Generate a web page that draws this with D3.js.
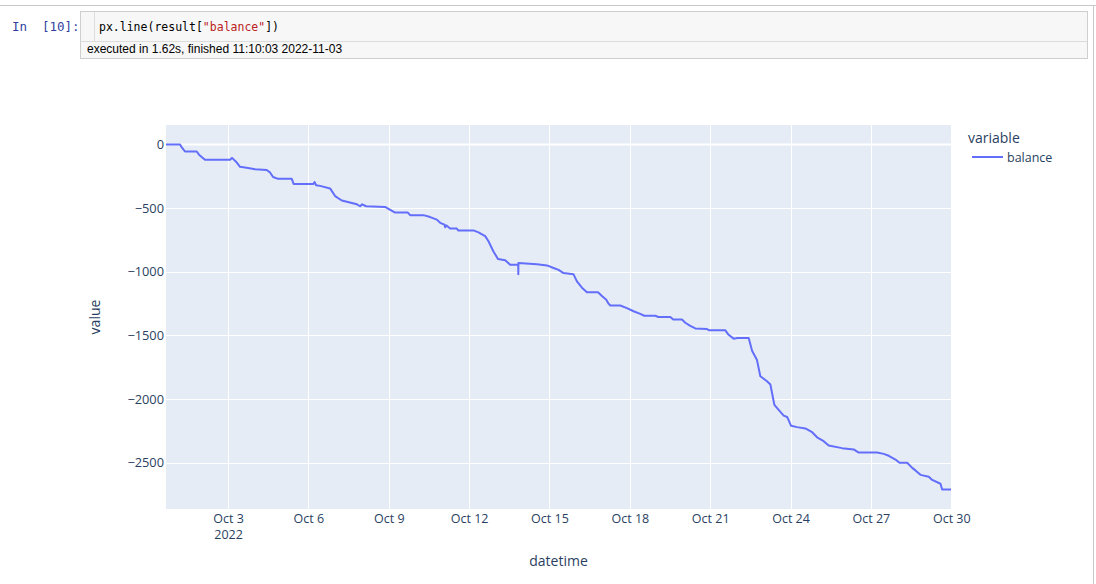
<!DOCTYPE html>
<html>
<head>
<meta charset="utf-8">
<script src="https://cdn.jsdelivr.net/npm/d3@7"></script>
<style>
  html, body { margin: 0; padding: 0; background: #fff; }
  svg { display: block; }
</style>
</head>
<body>
<svg id="chart" width="1096" height="584"></svg>
<script>
// ---- data ----
const times = [
"2022-09-30 16:25","2022-10-01 05:00","2022-10-01 06:45","2022-10-01 09:25","2022-10-01 19:55","2022-10-01 22:00",
"2022-10-02 03:20","2022-10-03 01:50","2022-10-03 03:35","2022-10-03 07:10","2022-10-03 10:45","2022-10-03 17:55",
"2022-10-04 00:15","2022-10-04 10:40","2022-10-04 13:40","2022-10-04 16:20","2022-10-04 20:50","2022-10-05 09:05",
"2022-10-05 10:45","2022-10-06 04:30","2022-10-06 05:30","2022-10-06 06:55","2022-10-06 10:30","2022-10-06 19:25",
"2022-10-06 23:55","2022-10-07 05:55","2022-10-07 14:55","2022-10-07 19:25","2022-10-07 22:20","2022-10-08 00:10",
"2022-10-08 03:45","2022-10-08 20:45","2022-10-08 23:45","2022-10-09 05:45","2022-10-09 17:05","2022-10-09 19:10",
"2022-10-10 07:05","2022-10-10 13:05","2022-10-10 19:05","2022-10-10 22:05","2022-10-11 01:55","2022-10-11 02:35",
"2022-10-11 03:25","2022-10-11 07:00","2022-10-11 13:00","2022-10-11 14:10","2022-10-12 03:55","2022-10-12 08:25",
"2022-10-12 14:25","2022-10-12 17:20","2022-10-12 21:50","2022-10-13 01:50","2022-10-13 08:20","2022-10-13 12:50",
"2022-10-13 20:00","2022-10-13 20:05","2022-10-13 20:10","2022-10-14 12:45","2022-10-14 21:45","2022-10-15 03:40",
"2022-10-15 08:10","2022-10-15 12:35","2022-10-15 21:35","2022-10-16 00:35","2022-10-16 05:05","2022-10-16 09:35",
"2022-10-16 19:30","2022-10-16 23:00","2022-10-17 02:55","2022-10-17 04:55","2022-10-17 06:30","2022-10-17 15:25",
"2022-10-17 21:25","2022-10-18 03:20","2022-10-18 09:20","2022-10-18 12:55","2022-10-18 22:50","2022-10-19 01:30",
"2022-10-19 12:15","2022-10-19 14:55","2022-10-19 22:45","2022-10-20 01:40","2022-10-20 06:10","2022-10-20 10:40",
"2022-10-20 21:10","2022-10-20 23:15","2022-10-21 13:35","2022-10-21 16:30","2022-10-21 21:00","2022-10-22 00:20",
"2022-10-22 10:30","2022-10-22 13:30","2022-10-22 17:50","2022-10-22 20:55","2022-10-23 02:55","2022-10-23 05:55",
"2022-10-23 09:30","2022-10-23 13:20","2022-10-23 17:50","2022-10-23 20:55","2022-10-24 00:30","2022-10-24 05:50",
"2022-10-24 13:15","2022-10-24 19:20","2022-10-24 23:45","2022-10-25 05:40","2022-10-25 10:10","2022-10-25 22:10",
"2022-10-26 08:35","2022-10-26 13:05","2022-10-27 05:35","2022-10-27 11:30","2022-10-27 16:00","2022-10-27 22:00",
"2022-10-28 01:35","2022-10-28 08:30","2022-10-28 13:00","2022-10-28 15:55","2022-10-28 20:25","2022-10-29 03:50",
"2022-10-29 06:55","2022-10-29 14:20","2022-10-29 15:50","2022-10-29 23:45"
];
const balance = [
0,0,-25,-55,-55,-80,
-120,-120,-105,-135,-175,-185,
-195,-200,-220,-255,-270,-270,
-310,-310,-295,-320,-325,-345,
-405,-440,-460,-470,-485,-470,
-485,-490,-505,-535,-535,-555,
-555,-570,-590,-615,-630,-650,
-635,-660,-660,-675,-675,-690,
-720,-760,-840,-900,-910,-945,
-945,-1020,-930,-940,-950,-970,
-985,-1010,-1020,-1075,-1125,-1160,
-1160,-1190,-1220,-1250,-1265,-1265,
-1285,-1310,-1330,-1345,-1345,-1355,
-1355,-1375,-1375,-1400,-1425,-1445,
-1450,-1460,-1460,-1495,-1525,-1520,
-1520,-1620,-1690,-1820,-1860,-1885,
-2045,-2085,-2130,-2140,-2210,-2220,
-2230,-2260,-2300,-2330,-2365,-2385,
-2395,-2420,-2420,-2430,-2445,-2475,
-2500,-2500,-2540,-2560,-2595,-2610,
-2635,-2665,-2710,-2710
];
const xTickDates = ["2022-10-03","2022-10-06","2022-10-09","2022-10-12","2022-10-15","2022-10-18","2022-10-21","2022-10-24","2022-10-27","2022-10-30"];
const xTickLabels = ["Oct 3","Oct 6","Oct 9","Oct 12","Oct 15","Oct 18","Oct 21","Oct 24","Oct 27","Oct 30"];
const yTicks = [0,-500,-1000,-1500,-2000,-2500];
const seriesName = "balance";

// ---- layout ----
const svg = d3.select("#chart");
const W = 1096, H = 584;
const plot = {left: 166, right: 951, top: 125, bottom: 509};
const font = "'Open Sans', verdana, arial, sans-serif";
const txt = "#2a3f5f";
const lineColor = "#636efa";

// notebook chrome
svg.append("line").attr("x1",0).attr("x2",W).attr("y1",5.5).attr("y2",5.5).attr("stroke","#c8c8c8");
svg.append("line").attr("x1",1093.5).attr("x2",1093.5).attr("y1",5).attr("y2",H).attr("stroke","#c8c8c8");
svg.append("rect").attr("x",80.5).attr("y",11.5).attr("width",1007).attr("height",47)
   .attr("fill","#f7f7f7").attr("stroke","#cfcfcf");
svg.append("line").attr("x1",80.5).attr("x2",1087.5).attr("y1",41.5).attr("y2",41.5).attr("stroke","#dcdcdc");
svg.append("line").attr("x1",94.5).attr("x2",94.5).attr("y1",12).attr("y2",41).attr("stroke","#dddddd");
const mono = "'DejaVu Sans Mono', 'Liberation Mono', monospace";
svg.append("text").attr("x",12).attr("y",30.5).attr("font-family",mono).attr("font-size",12.5)
   .attr("fill","#303F9F").text("In");
svg.append("text").attr("x",42).attr("y",30.5).attr("font-family",mono).attr("font-size",12.5)
   .attr("fill","#303F9F").text("[10]:");
const code = svg.append("text").attr("x",99).attr("y",30.5).attr("font-family",mono).attr("font-size",11.5).attr("fill","#000");
code.append("tspan").text("px.line(result[");
code.append("tspan").attr("fill","#BA2121").text('"balance"');
code.append("tspan").text("])");
svg.append("text").attr("x",87).attr("y",52.5).attr("font-family","'Liberation Sans', Arial, sans-serif")
   .attr("font-size",12).attr("fill","#000").text("executed in 1.62s, finished 11:10:03 2022-11-03");

// ---- scales ----
const parse = d3.timeParse("%Y-%m-%d %H:%M");
const parseDay = d3.timeParse("%Y-%m-%d");
const data = times.map((t,i) => ({t: parse(t), v: balance[i]}));
const x = d3.scaleTime().domain(d3.extent(data, d => d.t)).range([plot.left, plot.right]);
const [vmin, vmax] = d3.extent(data, d => d.v);
const pad = (vmax - vmin) * 0.0565;
const y = d3.scaleLinear().domain([vmin - pad, vmax + pad]).range([plot.bottom, plot.top]);

// background
svg.append("rect").attr("x",plot.left).attr("y",plot.top)
   .attr("width",plot.right-plot.left).attr("height",plot.bottom-plot.top).attr("fill","#e5ecf6");

const tickDates = xTickDates.map(parseDay);
// grid
const grid = svg.append("g");
grid.selectAll(".gx").data(tickDates).join("line")
  .attr("x1",d=>Math.round(x(d))+0.5).attr("x2",d=>Math.round(x(d))+0.5)
  .attr("y1",plot.top).attr("y2",plot.bottom).attr("stroke","#fff").attr("stroke-width",1);
grid.selectAll(".gy").data(yTicks.filter(d=>d!==0)).join("line")
  .attr("x1",plot.left).attr("x2",plot.right)
  .attr("y1",d=>Math.round(y(d))+0.5).attr("y2",d=>Math.round(y(d))+0.5).attr("stroke","#fff").attr("stroke-width",1);
grid.append("line").attr("x1",plot.left).attr("x2",plot.right)
  .attr("y1",y(0)).attr("y2",y(0)).attr("stroke","#fff").attr("stroke-width",2);

// axes (via d3 axis, styled like plotly)
const xAxis = d3.axisBottom(x).tickValues(tickDates).tickSize(0).tickPadding(0)
  .tickFormat((d,i) => xTickLabels[i]);
const gx = svg.append("g").attr("transform",`translate(0,${plot.bottom})`).call(xAxis);
gx.select(".domain").remove();
gx.selectAll("text").attr("font-family",font).attr("font-size",12.5).attr("fill",txt)
  .attr("dy",null).attr("y",13.5);
gx.selectAll(".tick").filter((d,i)=>i===0).append("text")
  .attr("y",30).attr("text-anchor","middle").attr("font-family",font).attr("font-size",12.5)
  .attr("fill",txt).text("2022");

const yAxis = d3.axisLeft(y).tickValues(yTicks).tickSize(0).tickPadding(2)
  .tickFormat(d => d < 0 ? "\u2212" + Math.abs(d) : String(d));
const gy = svg.append("g").attr("transform",`translate(${plot.left},0)`).call(yAxis);
gy.select(".domain").remove();
gy.selectAll("text").attr("font-family",font).attr("font-size",12.8).attr("fill",txt);

// axis titles
svg.append("text").attr("x",(plot.left+plot.right)/2).attr("y",566).attr("text-anchor","middle")
  .attr("font-family",font).attr("font-size",14).attr("fill",txt).text("datetime");
svg.append("text").attr("transform",`translate(100,${(plot.top+plot.bottom)/2}) rotate(-90)`)
  .attr("text-anchor","middle").attr("font-family",font).attr("font-size",14).attr("fill",txt).text("value");

// line
const line = d3.line().x(d=>x(d.t)).y(d=>y(d.v));
svg.append("path").datum(data).attr("d",line).attr("fill","none")
  .attr("stroke",lineColor).attr("stroke-width",2).attr("stroke-linejoin","round");

// legend
const lg = svg.append("g");
lg.append("text").attr("x",968).attr("y",143).attr("font-family",font).attr("font-size",14)
  .attr("fill",txt).text("variable");
lg.append("line").attr("x1",972).attr("x2",1003).attr("y1",157).attr("y2",157)
  .attr("stroke",lineColor).attr("stroke-width",2);
lg.append("text").attr("x",1007).attr("y",161.5).attr("font-family",font).attr("font-size",12.5)
  .attr("fill",txt).text(seriesName);
</script>
</body>
</html>
